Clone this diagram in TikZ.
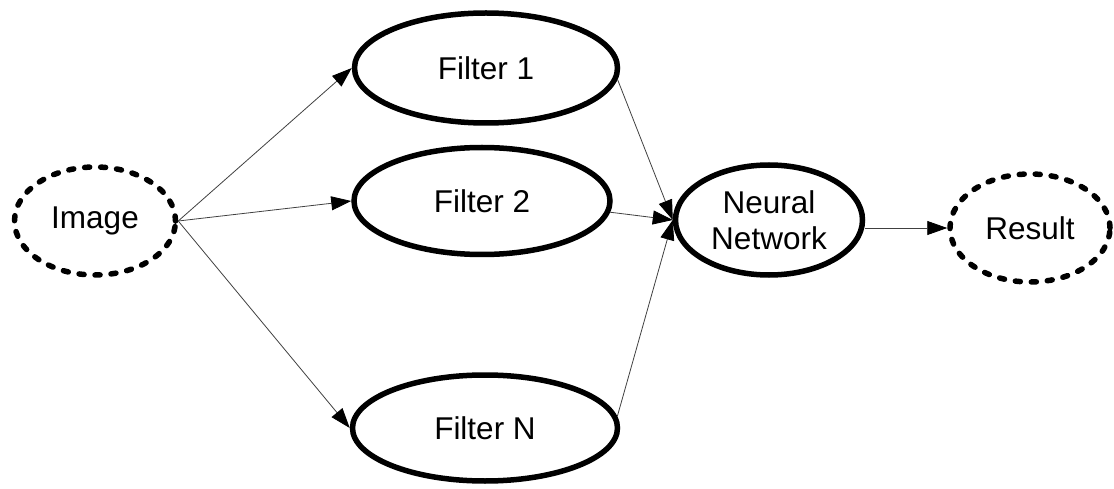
\documentclass[tikz,border=0pt]{standalone}
\usepackage{fontspec}
\setmainfont{Liberation Sans}
\usetikzlibrary{shapes.geometric,arrows.meta}
\begin{document}
\begin{tikzpicture}[x=1pt,y=-1pt,
  every node/.style={font=\fontsize{31.5}{36}\selectfont},
  proc/.style={ellipse,draw,line width=5.5pt,inner sep=0pt,align=center},
  term/.style={proc,dash pattern=on 5pt off 11pt,line cap=round},
  link/.style={line width=0.8pt,draw=black!75,
    -{Triangle[length=20pt,width=14pt,color=black,fill=black]}}]
  \useasboundingbox (0,0) rectangle (1114,489);

  \node[term,minimum width=161pt,minimum height=108pt] (img) at (95,221) {Image};
  \node[proc,minimum width=263pt,minimum height=110pt] (f1) at (486,68) {Filter 1};
  \node[proc,minimum width=256pt,minimum height=107pt] (f2) at (482,201) {Filter 2};
  \node[proc,minimum width=265pt,minimum height=106pt] (fn) at (485,428) {Filter N};
  \node[proc,minimum width=187pt,minimum height=110pt] (nn) at (769,220) {Neural\\Network};
  \node[term,minimum width=160pt,minimum height=108pt] (res) at (1030,228) {Result};

  \draw[link] (img.east) -- (f1.west);
  \draw[link] (img.east) -- (f2.west);
  \draw[link] (img.east) -- (fn.west);
  \draw[link] (f1.-5) -- (nn.west);
  \draw[link] (f2.-5) -- (nn.west);
  \draw[link] (fn.5) -- (nn.west);
  \draw[link] (res.west -| nn.east) -- (res.west);
\end{tikzpicture}
\end{document}
